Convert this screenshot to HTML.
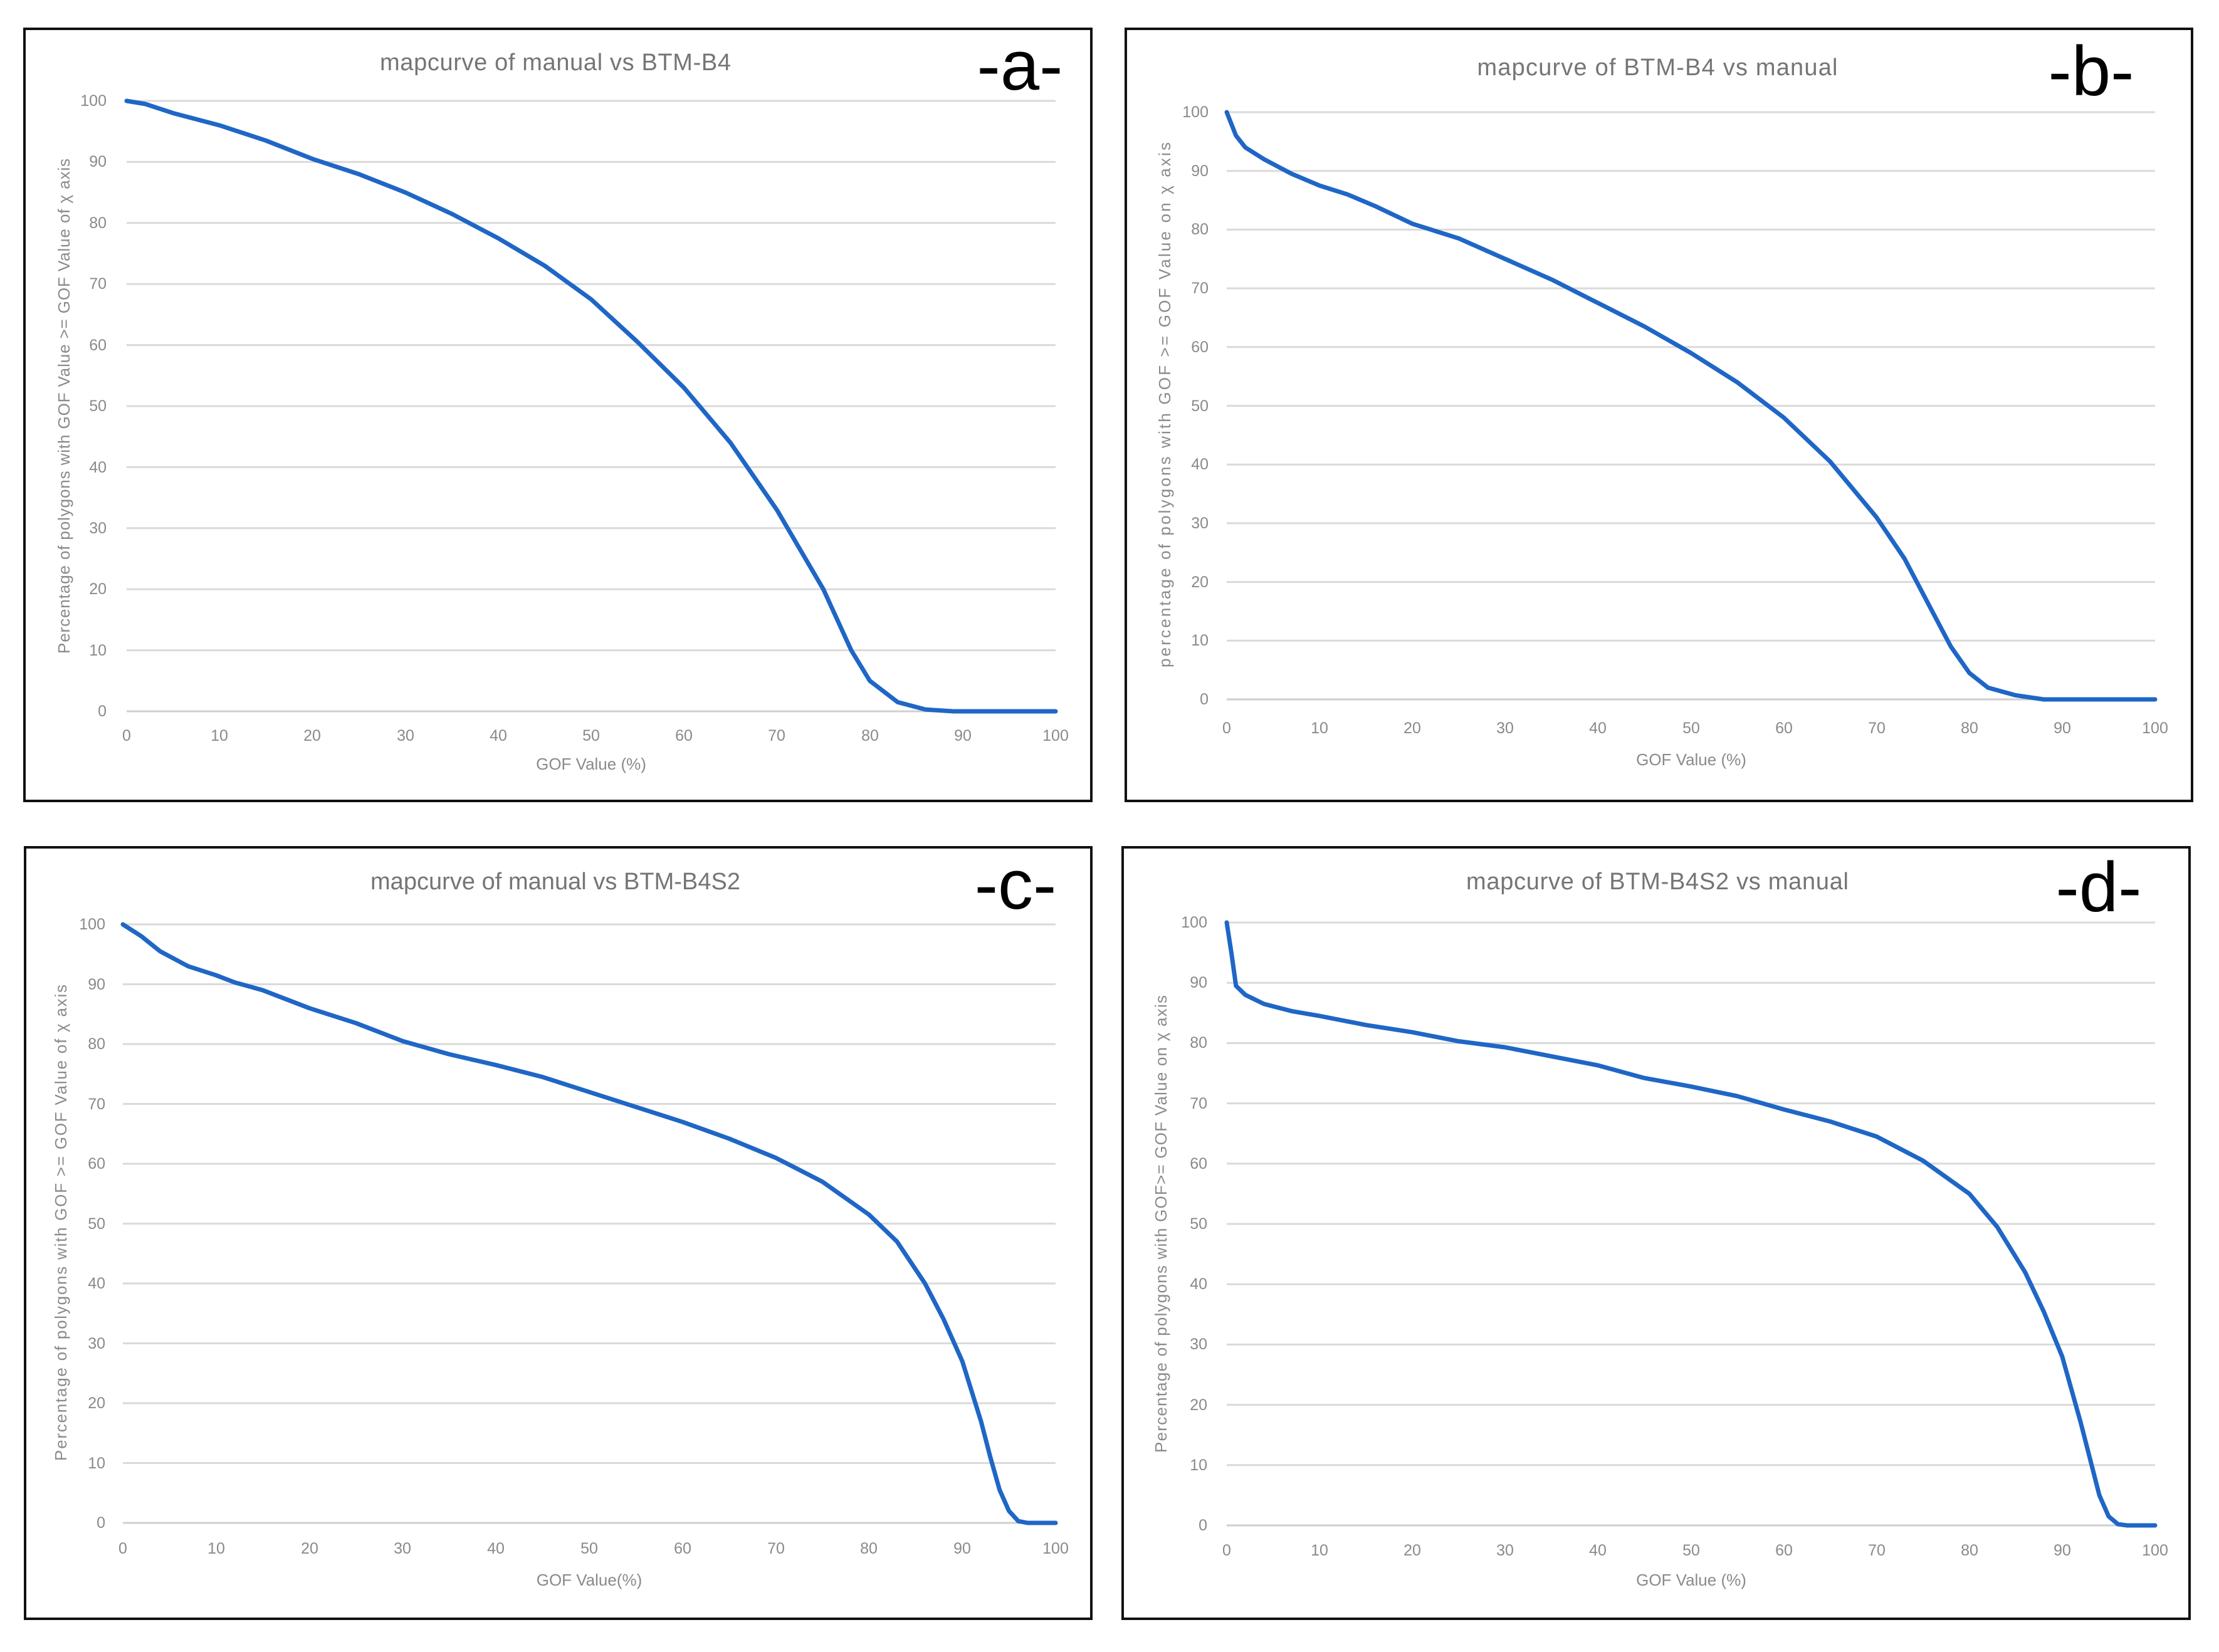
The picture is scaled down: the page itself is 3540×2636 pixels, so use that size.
<!DOCTYPE html>
<html><head><meta charset="utf-8"><style>
html,body{margin:0;padding:0;background:#fff}
svg{display:block}
text{font-family:"Liberation Sans",sans-serif}
.t{font-size:25px;fill:#8a8a8a}
.ti{font-size:38px;fill:#757575}
.ax{font-size:26px;fill:#8a8a8a}
.lt{font-size:112px;fill:#000}
.c{fill:none;stroke:#1f66c6;stroke-width:7;vector-effect:non-scaling-stroke;stroke-linejoin:round;stroke-linecap:round}
.g line{stroke:#dadada;stroke-width:3;vector-effect:non-scaling-stroke}
.bx{fill:none;stroke:#111;stroke-width:4}
</style></head><body>
<svg width="3540" height="2636" viewBox="0 0 3540 2636" xmlns="http://www.w3.org/2000/svg" xmlns:xlink="http://www.w3.org/1999/xlink">
<defs>
<g id="grid" class="g">
<line x1="0" y1="0" x2="100" y2="0" style="stroke:#cfcfcf"/><line x1="0" y1="10" x2="100" y2="10"/><line x1="0" y1="20" x2="100" y2="20"/><line x1="0" y1="30" x2="100" y2="30"/><line x1="0" y1="40" x2="100" y2="40"/><line x1="0" y1="50" x2="100" y2="50"/><line x1="0" y1="60" x2="100" y2="60"/><line x1="0" y1="70" x2="100" y2="70"/><line x1="0" y1="80" x2="100" y2="80"/><line x1="0" y1="90" x2="100" y2="90"/><line x1="0" y1="100" x2="100" y2="100"/>
</g>
</defs>
<rect width="3540" height="2636" fill="#fff"/>

<!-- Panel a -->
<rect class="bx" x="39" y="46" width="1702" height="1232"/>
<use xlink:href="#grid" transform="translate(202,1135) scale(14.82,-9.74)"/>
<polyline class="c" transform="translate(202,1135) scale(14.82,-9.74)" points="0,100 2,99.5 5,98 10,96 15,93.5 20,90.5 25,88 30,85 35,81.5 40,77.5 45,73 50,67.5 55,60.5 60,53 65,44 70,33 75,20 78,10 80,5 83,1.5 86,0.3 89,0 100,0"/>
<text class="ti" x="886" y="112" text-anchor="middle" textLength="560">mapcurve of manual vs BTM-B4</text>
<text class="lt" x="1627" y="143" text-anchor="middle">-a-</text>
<g class="t" text-anchor="end">
<text x="170" y="1143">0</text><text x="170" y="1046">10</text><text x="170" y="948">20</text><text x="170" y="851">30</text><text x="170" y="754">40</text><text x="170" y="656">50</text><text x="170" y="559">60</text><text x="170" y="461">70</text><text x="170" y="364">80</text><text x="170" y="266">90</text><text x="170" y="169">100</text>
</g>
<g class="t" text-anchor="middle">
<text x="202" y="1182">0</text><text x="350" y="1182">10</text><text x="498" y="1182">20</text><text x="647" y="1182">30</text><text x="795" y="1182">40</text><text x="943" y="1182">50</text><text x="1091" y="1182">60</text><text x="1239" y="1182">70</text><text x="1388" y="1182">80</text><text x="1536" y="1182">90</text><text x="1684" y="1182">100</text>
</g>
<text class="ax" x="943" y="1228" text-anchor="middle">GOF Value (%)</text>
<text class="ax" transform="translate(111,648) rotate(-90)" text-anchor="middle" textLength="790">Percentage of polygons with GOF Value &gt;= GOF Value of χ axis</text>

<!-- Panel b -->
<rect class="bx" x="1796" y="46" width="1701" height="1232"/>
<use xlink:href="#grid" transform="translate(1957,1116) scale(14.81,-9.37)"/>
<polyline class="c" transform="translate(1957,1116) scale(14.81,-9.37)" points="0,100 1,96 2,94 4,92 7,89.5 10,87.5 13,86 16,84 20,81 25,78.5 30,75 35,71.5 40,67.5 45,63.5 50,59 55,54 60,48 65,40.5 70,31 73,24 76,15 78,9 80,4.5 82,2 85,0.7 88,0 100,0"/>
<text class="ti" x="2644" y="120" text-anchor="middle" textLength="575">mapcurve of BTM-B4 vs manual</text>
<text class="lt" x="3336" y="152" text-anchor="middle">-b-</text>
<g class="t" text-anchor="end">
<text x="1928" y="1124">0</text><text x="1928" y="1030">10</text><text x="1928" y="937">20</text><text x="1928" y="843">30</text><text x="1928" y="749">40</text><text x="1928" y="656">50</text><text x="1928" y="562">60</text><text x="1928" y="468">70</text><text x="1928" y="374">80</text><text x="1928" y="281">90</text><text x="1928" y="187">100</text>
</g>
<g class="t" text-anchor="middle">
<text x="1957" y="1170">0</text><text x="2105" y="1170">10</text><text x="2253" y="1170">20</text><text x="2401" y="1170">30</text><text x="2549" y="1170">40</text><text x="2698" y="1170">50</text><text x="2846" y="1170">60</text><text x="2994" y="1170">70</text><text x="3142" y="1170">80</text><text x="3290" y="1170">90</text><text x="3438" y="1170">100</text>
</g>
<text class="ax" x="2698" y="1221" text-anchor="middle">GOF Value (%)</text>
<text class="ax" transform="translate(1867,646) rotate(-90)" text-anchor="middle" textLength="838">percentage of polygons with GOF  &gt;= GOF  Value on χ axis</text>

<!-- Panel c -->
<rect class="bx" x="40" y="1352" width="1701" height="1231"/>
<use xlink:href="#grid" transform="translate(196,2430) scale(14.88,-9.55)"/>
<polyline class="c" transform="translate(196,2430) scale(14.88,-9.55)" points="0,100 2,98 4,95.5 7,93 10,91.5 12,90.3 15,89 20,86 25,83.5 30,80.5 35,78.3 40,76.5 45,74.5 50,72 55,69.5 60,67 65,64.2 70,61 75,57 80,51.5 83,47 86,40 88,34 90,27 92,17 93,11 94,5.5 95,2 96,0.3 97,0 100,0"/>
<text class="ti" x="886" y="1419" text-anchor="middle" textLength="590">mapcurve of manual vs BTM-B4S2</text>
<text class="lt" x="1620" y="1450" text-anchor="middle">-c-</text>
<g class="t" text-anchor="end">
<text x="168" y="2438">0</text><text x="168" y="2343">10</text><text x="168" y="2247">20</text><text x="168" y="2152">30</text><text x="168" y="2056">40</text><text x="168" y="1961">50</text><text x="168" y="1865">60</text><text x="168" y="1770">70</text><text x="168" y="1674">80</text><text x="168" y="1579">90</text><text x="168" y="1483">100</text>
</g>
<g class="t" text-anchor="middle">
<text x="196" y="2479">0</text><text x="345" y="2479">10</text><text x="494" y="2479">20</text><text x="642" y="2479">30</text><text x="791" y="2479">40</text><text x="940" y="2479">50</text><text x="1089" y="2479">60</text><text x="1238" y="2479">70</text><text x="1386" y="2479">80</text><text x="1535" y="2479">90</text><text x="1684" y="2479">100</text>
</g>
<text class="ax" x="940" y="2530" text-anchor="middle">GOF Value(%)</text>
<text class="ax" transform="translate(106,1951) rotate(-90)" text-anchor="middle" textLength="760">Percentage of polygons with GOF &gt;= GOF Value of χ axis</text>

<!-- Panel d -->
<rect class="bx" x="1791" y="1352" width="1702" height="1231"/>
<use xlink:href="#grid" transform="translate(1957,2434) scale(14.81,-9.62)"/>
<polyline class="c" transform="translate(1957,2434) scale(14.81,-9.62)" points="0,100 0.5,95 1,89.5 2,88 4,86.5 7,85.3 10,84.5 15,83 20,81.8 25,80.3 30,79.3 35,77.8 40,76.3 45,74.2 50,72.8 55,71.2 60,69 65,67 70,64.5 75,60.5 80,55 83,49.5 86,42 88,35.5 90,28 92,17 93,11 94,5 95,1.5 96,0.2 97,0 100,0"/>
<text class="ti" x="2644" y="1419" text-anchor="middle" textLength="610">mapcurve of BTM-B4S2 vs manual</text>
<text class="lt" x="3348" y="1454" text-anchor="middle">-d-</text>
<g class="t" text-anchor="end">
<text x="1926" y="2442">0</text><text x="1926" y="2346">10</text><text x="1926" y="2250">20</text><text x="1926" y="2153">30</text><text x="1926" y="2057">40</text><text x="1926" y="1961">50</text><text x="1926" y="1865">60</text><text x="1926" y="1769">70</text><text x="1926" y="1672">80</text><text x="1926" y="1576">90</text><text x="1926" y="1480">100</text>
</g>
<g class="t" text-anchor="middle">
<text x="1957" y="2482">0</text><text x="2105" y="2482">10</text><text x="2253" y="2482">20</text><text x="2401" y="2482">30</text><text x="2549" y="2482">40</text><text x="2698" y="2482">50</text><text x="2846" y="2482">60</text><text x="2994" y="2482">70</text><text x="3142" y="2482">80</text><text x="3290" y="2482">90</text><text x="3438" y="2482">100</text>
</g>
<text class="ax" x="2698" y="2530" text-anchor="middle">GOF Value (%)</text>
<text class="ax" transform="translate(1861,1953) rotate(-90)" text-anchor="middle" textLength="730">Percentage of polygons with GOF&gt;= GOF Value on χ axis</text>
</svg>
</body></html>
